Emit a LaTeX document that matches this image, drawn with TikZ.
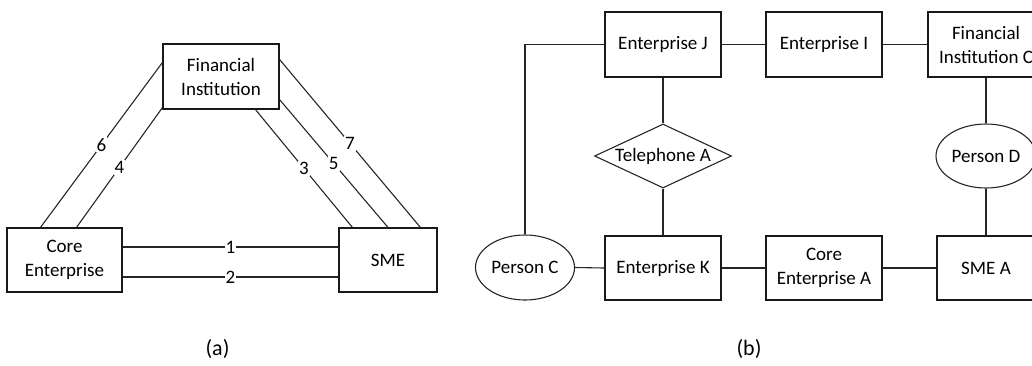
\documentclass[tikz,border=0pt]{standalone}
\usepackage{fontspec}
\setmainfont{Carlito}
\usetikzlibrary{shapes.geometric}
\begin{document}
\begin{tikzpicture}[x=1pt,y=-1pt,
  every node/.style={font=\fontsize{19}{24}\selectfont, text=black},
  box/.style={draw=black!90, line width=1.1pt, rectangle, inner sep=0pt,
    minimum width=#1, minimum height=64pt, align=center},
  box/.default=116pt,
  oval/.style={draw=black!85, line width=1.1pt, ellipse, inner sep=0pt,
    minimum width=#1, minimum height=64pt},
  oval/.default=100pt,
  rhomb/.style={draw=black!85, line width=1.1pt, diamond, inner sep=0pt,
    shape aspect=2.14, minimum width=137pt, minimum height=64pt},
  link/.style={draw=black!85, line width=1.1pt},
  num/.style={midway, fill=white, inner sep=1pt},
  caption/.style={font=\fontsize{22}{26}\selectfont}
]
\useasboundingbox (0,0) rectangle (1032,365);
\clip (0,0) rectangle (1032,365);

% ---------- (a) three-party relations ----------
\node[box=116pt, minimum height=65pt] (fi) at (221,76.5) {Financial\\Institution};
\node[box=115pt] (ce) at (64.5,260) {Core\\Enterprise};
\node[box=98pt] (sme) at (388,260) {SME};

\draw[link] ([yshift=13pt]ce.east) -- node[num] {1} ([yshift=13pt]sme.west);
\draw[link] ([yshift=-17pt]ce.east) -- node[num] {2} ([yshift=-17pt]sme.west);
\draw[link] ([xshift=34pt]ce.north west) -- node[num] {6} ([yshift=-19pt]fi.north west);
\draw[link] ([xshift=70pt]ce.north west) -- node[num] {4} ([yshift=2pt]fi.south west);
\draw[link] ([xshift=93pt]fi.south west) -- node[num] {3} ([xshift=14pt]sme.north west);
\draw[link] ([yshift=10pt]fi.south east) -- node[num] {5} (sme.north);
\draw[link] ([yshift=-16pt]fi.north east) -- node[num] {7} ([xshift=82pt]sme.north west);

\node[caption] (capa) at (217.5,349) {(a)};

% ---------- (b) enterprise network ----------
\node[box, minimum height=65pt] (ej) at (663,44.5) {Enterprise J};
\node[box, minimum height=65pt] (ei) at (824,44.5) {Enterprise I};
\node[box, minimum height=65pt] (fic) at (986,44.5) {Financial\\Institution C};
\node[rhomb] (tel) at (663,156) {Telephone A};
\node[oval=100pt] (pd) at (986,156) {Person D};
\node[oval=99pt, minimum height=65pt] (pc) at (525,267.5) {Person C};
\node[box] (ek) at (663,268) {Enterprise K};
\node[box] (cea) at (824,268) {Core\\Enterprise A};
\node[box=98pt] (smea) at (986,268) {SME A};

\draw[link] (ej.west) -| (pc.north);
\draw[link] (ej.east) -- (ei.west);
\draw[link] (ei.east) -- (fic.west);
\draw[link] (ej.south) -- (tel.north);
\draw[link] (tel.south) -- (ek.north);
\draw[link] (fic.south) -- (pd.north);
\draw[link] (pd.south) -- (smea.north);
\draw[link] (pc.east) -- (ek.west);
\draw[link] (ek.east) -- (cea.west);
\draw[link] (cea.east) -- (smea.west);

\node[caption] (capb) at (749,349) {(b)};
\end{tikzpicture}
\end{document}
